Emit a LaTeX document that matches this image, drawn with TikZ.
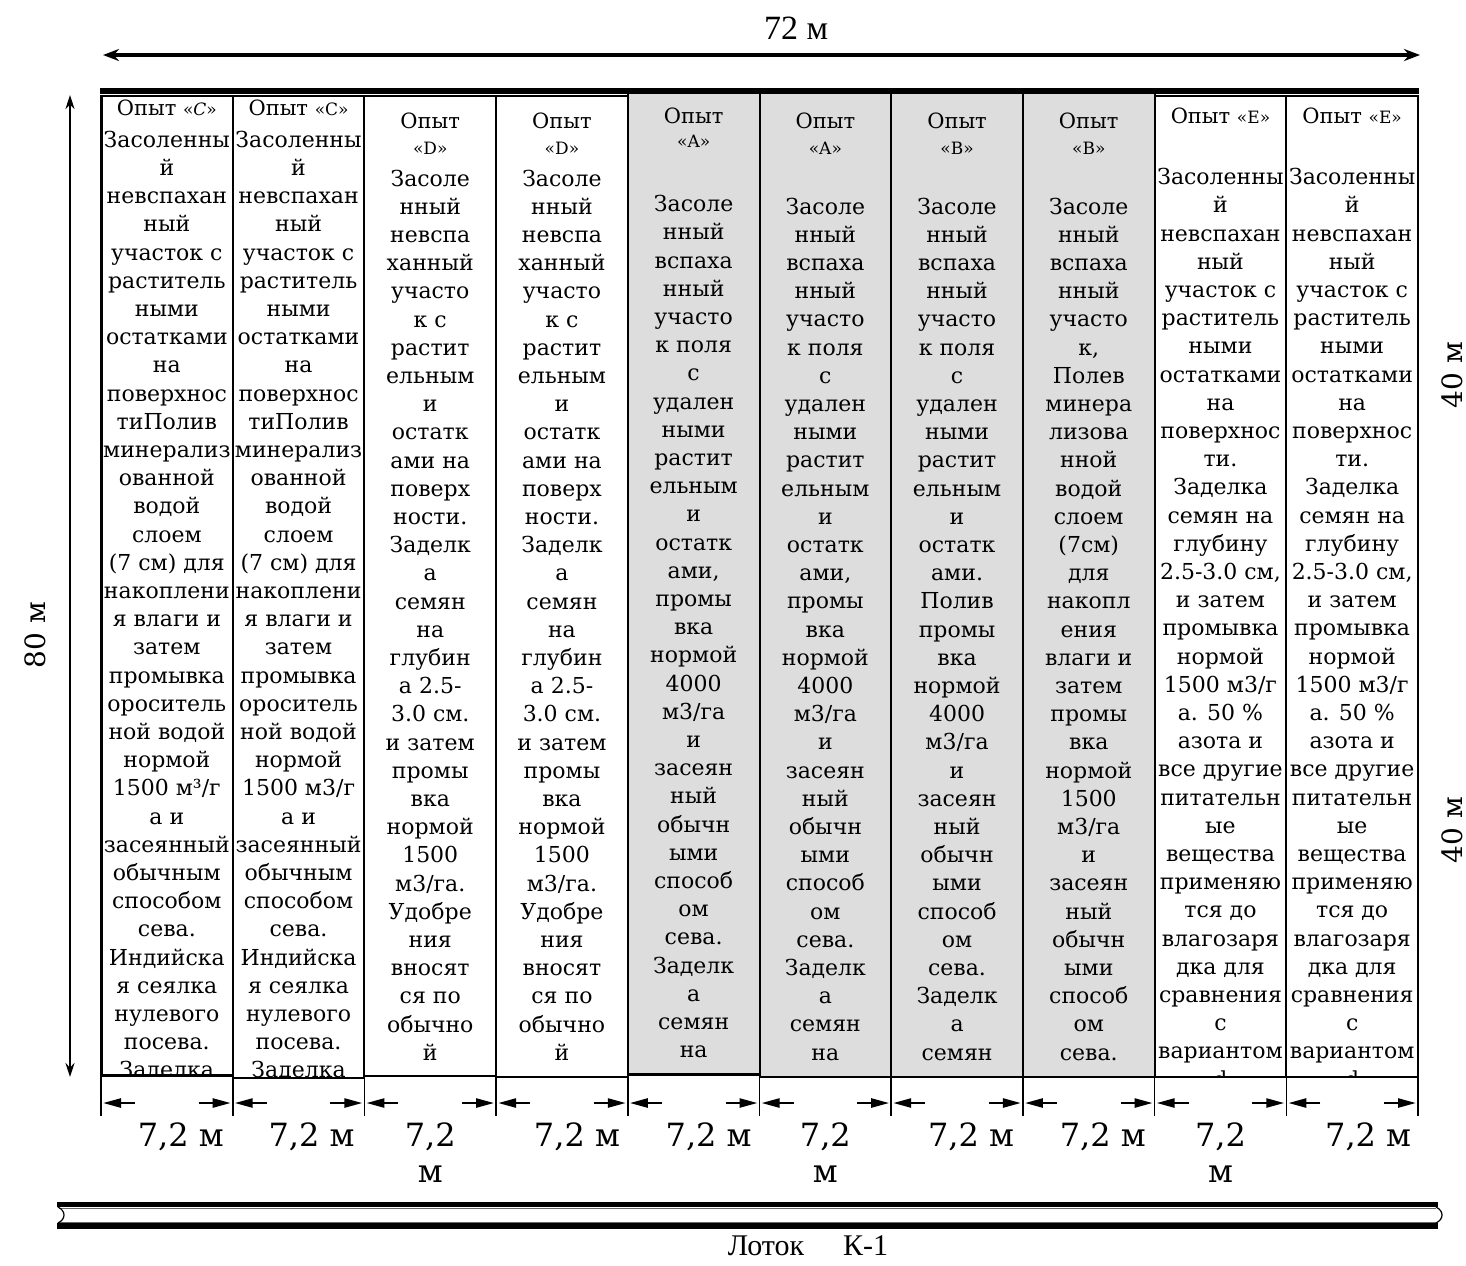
\documentclass[tikz,border=0pt]{standalone}
\usepackage{fontspec}
\setmainfont{DejaVu Serif}
\newfontfamily\timesf{Liberation Serif}
\usetikzlibrary{arrows.meta}
\definecolor{plotgray}{RGB}{221,221,221}
\newcommand\bodyfont{\fontsize{11pt}{14.1pt}\selectfont}
\newcommand\headfont{\fontsize{10.5pt}{12pt}\selectfont}
\newcommand\letterfont{\fontsize{8.5pt}{10pt}\selectfont}
\newcommand\dimfont{\fontsize{16pt}{19pt}\selectfont}
\newcommand\sidefont{\fontsize{14pt}{17pt}\selectfont}
\begin{document}
\begin{tikzpicture}[x=0.5pt,y=-0.5pt,
  every node/.style={inner sep=0pt, outer sep=0pt},
  colframe/.style={draw=black, line width=1pt},
  grayframe/.style={draw=black, fill=plotgray, line width=1pt},
  bodytext/.style={anchor=north, align=center, font=\bodyfont},
  headtext/.style={anchor=base, font=\headfont},
  lettertext/.style={anchor=base, font=\letterfont},
  dimlabel/.style={anchor=base, font=\dimfont},
  dimarrow/.style={-{Triangle[length=9pt,width=4.5pt]}, line width=1.2pt},
  tickline/.style={line width=0.8pt},
  bigarrow/.style={{Stealth[length=8pt,width=6pt]}-{Stealth[length=8pt,width=6pt]}, line width=1.6pt},
  sidearrow/.style={{Stealth[length=7pt,width=4.5pt]}-{Stealth[length=7pt,width=4.5pt]}, line width=1pt},
]
\useasboundingbox (0,0) rectangle (1466,1265);

% columns
\foreach \i/\b in {0/1075,1/1078,2/1076,3/1077,8/1077,9/1077}{
  \draw[colframe] ({101+131.7*\i},96) rectangle ({101+131.7*(\i+1)},\b);
}
\foreach \i/\b in {4/1074,5/1077,6/1077,7/1077}{
  \draw[grayframe] ({101+131.7*\i},93) rectangle ({101+131.7*(\i+1)},\b);
}
\draw[line width=1.5pt] (101,96) -- (101,1075);
\draw[line width=1.5pt] (101,1075) -- (232.7,1075);
\draw[line width=1.5pt] (627.8,1074) -- (759.5,1074);
% top bar
\fill[black] (100,88) rectangle (1419,94);

% ---- column 1
\begin{scope}
\clip (101,96) rectangle (232.7,1074);
\node[headtext] (h1) at (166.85,115) {Опыт {\letterfont«\textit{C}»}};
\node[bodytext] (b1) at (166.85,127.5) {\strut Засоленны\\й\\невспахан\\ный\\участок с\\раститель\\ными\\остатками\\на\\поверхнос\\тиПолив\\минерализ\\ованной\\водой\\слоем\\(7 см) для\\накоплени\\я влаги и\\затем\\промывка\\ороситель\\ной водой\\нормой\\1500 м³/г\\а и\\засеянный\\обычным\\способом\\сева.\\Индийска\\я сеялка\\нулевого\\посева.\\Заделка};
\end{scope}
% ---- column 2
\begin{scope}
\clip (232.7,96) rectangle (364.4,1076);
\node[headtext] (h2) at (298.55,115) {Опыт {\letterfont«C»}};
\node[bodytext] (b2) at (298.55,127.5) {\strut Засоленны\\й\\невспахан\\ный\\участок с\\раститель\\ными\\остатками\\на\\поверхнос\\тиПолив\\минерализ\\ованной\\водой\\слоем\\(7 см) для\\накоплени\\я влаги и\\затем\\промывка\\ороситель\\ной водой\\нормой\\1500 м3/г\\а и\\засеянный\\обычным\\способом\\сева.\\Индийска\\я сеялка\\нулевого\\посева.\\Заделка};
\end{scope}
% ---- column 3
\begin{scope}
\clip (364.4,96) rectangle (496.1,1076);
\node[headtext] (h3) at (430.25,128) {Опыт};
\node[lettertext] (l3) at (430.25,154) {«D»};
\node[bodytext] (b3) at (430.25,166.3) {\strut Засоле\\нный\\невспа\\ханный\\участо\\к с\\растит\\ельным\\и\\остатк\\ами на\\поверх\\ности.\\Заделк\\а\\семян\\на\\глубин\\а 2.5-\\3.0 см.\\и затем\\промы\\вка\\нормой\\1500\\м3/га.\\Удобре\\ния\\вносят\\ся по\\обычно\\й};
\end{scope}
% ---- column 4
\begin{scope}
\clip (496.1,96) rectangle (627.8,1076);
\node[headtext] (h4) at (561.95,128) {Опыт};
\node[lettertext] (l4) at (561.95,154) {«D»};
\node[bodytext] (b4) at (561.95,166.3) {\strut Засоле\\нный\\невспа\\ханный\\участо\\к с\\растит\\ельным\\и\\остатк\\ами на\\поверх\\ности.\\Заделк\\а\\семян\\на\\глубин\\а 2.5-\\3.0 см.\\и затем\\промы\\вка\\нормой\\1500\\м3/га.\\Удобре\\ния\\вносят\\ся по\\обычно\\й};
\end{scope}
% ---- column 5
\begin{scope}
\clip (627.8,94) rectangle (759.5,1073);
\node[headtext] (h5) at (693.65,123) {Опыт};
\node[lettertext] (l5) at (693.65,147) {«A»};
\node[bodytext] (b5) at (693.65,192) {\strut Засоле\\нный\\вспаха\\нный\\участо\\к поля\\с\\удален\\ными\\растит\\ельным\\и\\остатк\\ами,\\промы\\вка\\нормой\\4000\\м3/га\\и\\засеян\\ный\\обычн\\ыми\\способ\\ом\\сева.\\Заделк\\а\\семян\\на};
\end{scope}
% ---- column 6
\begin{scope}
\clip (759.5,94) rectangle (891.2,1076);
\node[headtext] (h6) at (825.35,128) {Опыт};
\node[lettertext] (l6) at (825.35,154) {«A»};
\node[bodytext] (b6) at (825.35,194.3) {\strut Засоле\\нный\\вспаха\\нный\\участо\\к поля\\с\\удален\\ными\\растит\\ельным\\и\\остатк\\ами,\\промы\\вка\\нормой\\4000\\м3/га\\и\\засеян\\ный\\обычн\\ыми\\способ\\ом\\сева.\\Заделк\\а\\семян\\на};
\end{scope}
% ---- column 7
\begin{scope}
\clip (891.2,94) rectangle (1022.9,1076);
\node[headtext] (h7) at (957.05,128) {Опыт};
\node[lettertext] (l7) at (957.05,154) {«B»};
\node[bodytext] (b7) at (957.05,194.3) {\strut Засоле\\нный\\вспаха\\нный\\участо\\к поля\\с\\удален\\ными\\растит\\ельным\\и\\остатк\\ами.\\Полив\\промы\\вка\\нормой\\4000\\м3/га\\и\\засеян\\ный\\обычн\\ыми\\способ\\ом\\сева.\\Заделк\\а\\семян};
\end{scope}
% ---- column 8
\begin{scope}
\clip (1022.9,94) rectangle (1154.6,1076);
\node[headtext] (h8) at (1088.75,128) {Опыт};
\node[lettertext] (l8) at (1088.75,154) {«B»};
\node[bodytext] (b8) at (1088.75,194.3) {\strut Засоле\\нный\\вспаха\\нный\\участо\\к,\\Полев\\минера\\лизова\\нной\\водой\\слоем\\(7см)\\для\\накопл\\ения\\влаги и\\затем\\промы\\вка\\нормой\\1500\\м3/га\\и\\засеян\\ный\\обычн\\ыми\\способ\\ом\\сева.};
\end{scope}
% ---- column 9
\begin{scope}
\clip (1154.6,96) rectangle (1286.3,1076);
\node[headtext] (h9) at (1220.45,123) {Опыт {\letterfont«E»}};
\node[bodytext] (b9) at (1220.45,165) {\strut Засоленны\\й\\невспахан\\ный\\участок с\\раститель\\ными\\остатками\\на\\поверхнос\\ти.\\Заделка\\семян на\\глубину\\2.5-3.0 см,\\и затем\\промывка\\нормой\\1500 м3/г\\а. 50 \%\\азота и\\все другие\\питательн\\ые\\вещества\\применяю\\тся до\\влагозаря\\дка для\\сравнения\\с\\вариантом\\d};
\end{scope}
% ---- column 10
\begin{scope}
\clip (1286.3,96) rectangle (1418,1076);
\node[headtext] (h10) at (1352.15,123) {Опыт {\letterfont«E»}};
\node[bodytext] (b10) at (1352.15,165) {\strut Засоленны\\й\\невспахан\\ный\\участок с\\раститель\\ными\\остатками\\на\\поверхнос\\ти.\\Заделка\\семян на\\глубину\\2.5-3.0 см,\\и затем\\промывка\\нормой\\1500 м3/г\\а. 50 \%\\азота и\\все другие\\питательн\\ые\\вещества\\применяю\\тся до\\влагозаря\\дка для\\сравнения\\с\\вариантом\\d};
\end{scope}

% ticks and width arrows
\foreach \i in {0,...,10}{
  \draw[tickline] ({101+131.7*\i},1076) -- ({101+131.7*\i},1116);
}
\foreach \i in {0,...,9}{
  \draw[dimarrow] ({101+131.7*\i+34},1103) -- ({101+131.7*\i+2},1103);
  \draw[dimarrow] ({101+131.7*(\i+1)-34},1103) -- ({101+131.7*(\i+1)-2},1103);
}
% width labels
\node[dimlabel] (w1) at (180.85,1146) {7,2 м};
\node[dimlabel] (w2) at (311.55,1146) {7,2 м};
\node[dimlabel] (w3) at (430.25,1146) {7,2};
\node[dimlabel] (w3m) at (430.25,1182) {м};
\node[dimlabel] (w4) at (576.95,1146) {7,2 м};
\node[dimlabel] (w5) at (708.65,1146) {7,2 м};
\node[dimlabel] (w6) at (825.35,1146) {7,2};
\node[dimlabel] (w6m) at (825.35,1182) {м};
\node[dimlabel] (w7) at (971.05,1146) {7,2 м};
\node[dimlabel] (w8) at (1102.75,1146) {7,2 м};
\node[dimlabel] (w9) at (1220.45,1146) {7,2};
\node[dimlabel] (w9m) at (1220.45,1182) {м};
\node[dimlabel] (w10) at (1368.15,1146) {7,2 м};

% overall dimensions
\coordinate (topL) at (103,55);
\coordinate (topR) at (1420,55);
\draw[bigarrow] (topL) -- (topR);
\node[font=\timesf\fontsize{17pt}{20pt}\selectfont] (len72) at (796,28) {72 м};
\coordinate (sideT) at (70,95);
\coordinate (sideB) at (70,1077);
\draw[sidearrow] (sideT) -- (sideB);
\node[rotate=90, font=\sidefont] (len80) at (35,635) {80 м};
\node[rotate=90, font=\sidefont] (len40a) at (1452,375) {40 м};
\node[rotate=90, font=\sidefont] (len40b) at (1452,830) {40 м};

% channel Лоток К-1
\draw[line width=2.5pt] (57,1204.5) -- (1438,1204.5);
\draw[line width=2.8pt] (57,1226) -- (1438,1226);
\draw[line width=0.4pt, black!60] (59,1208) -- (1436,1208);
\draw[line width=0.4pt, black!60] (59,1222) -- (1436,1222);
\draw[line width=0.6pt] (58,1207) .. controls (66,1211) and (66,1219) .. (58,1223);
\draw[line width=0.6pt] (1436,1207) .. controls (1444,1211) and (1444,1219) .. (1436,1223);
\node[font=\timesf\fontsize{15pt}{18pt}\selectfont] (channel) at (808,1246) {Лоток\hspace{1.3em}К-1};
\end{tikzpicture}
\end{document}
